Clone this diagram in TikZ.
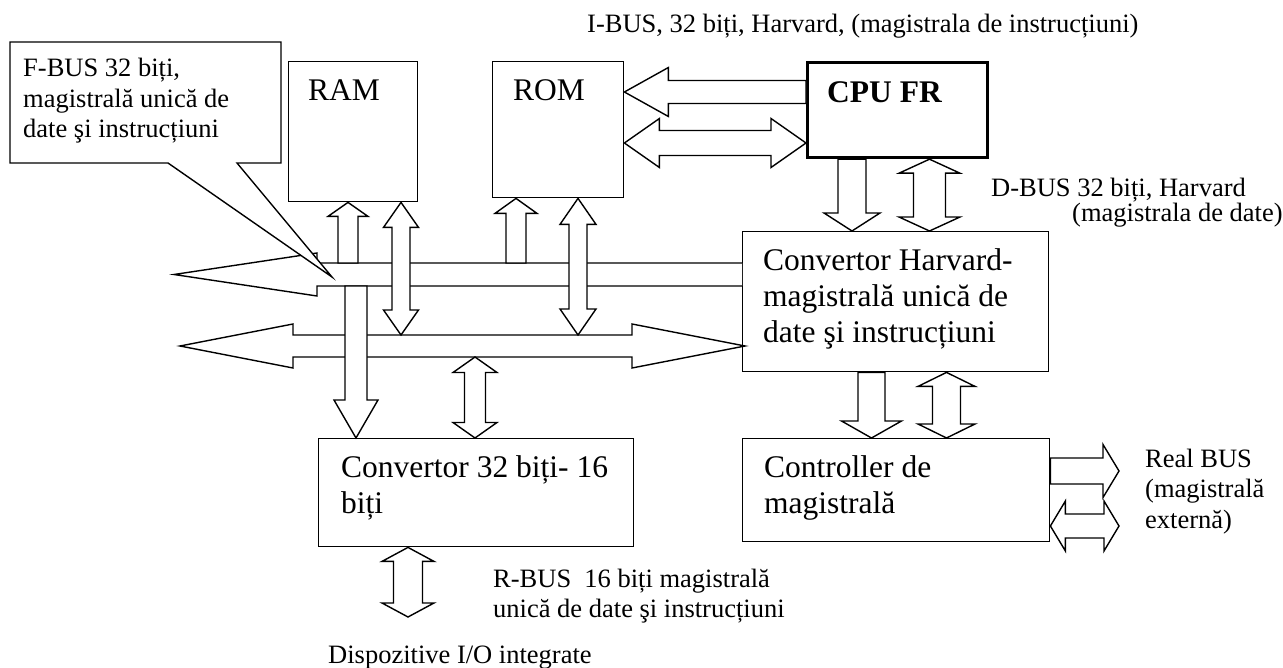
\documentclass[tikz,border=0pt]{standalone}
\usepackage{fontspec}
\setmainfont{Liberation Serif}
\usetikzlibrary{calc}

\tikzset{
  blk/.style={draw, line width=1.4pt, inner sep=0pt, anchor=north west},
  bar/.style={draw, fill=white, line width=1.4pt, line join=miter},
  txt/.style={inner sep=0pt, anchor=base west, align=left, font=\fontsize{31.5}{36}\selectfont},
  lbl/.style={inner sep=0pt, anchor=base west, align=left, font=\fontsize{26.5}{30.5}\selectfont},
}

% fat arrows: axis position, the two ends, shaft half width, head half width, head length
\newcommand{\vdbl}[6]{\filldraw[bar] let \p1=(#2), \p2=(#3) in
  (#1pt,\y1) -- (#1pt+#5pt,\y1-#6pt) -- (#1pt+#4pt,\y1-#6pt) -- (#1pt+#4pt,\y2+#6pt) -- (#1pt+#5pt,\y2+#6pt)
  -- (#1pt,\y2) -- (#1pt-#5pt,\y2+#6pt) -- (#1pt-#4pt,\y2+#6pt) -- (#1pt-#4pt,\y1-#6pt) -- (#1pt-#5pt,\y1-#6pt) -- cycle;}
\newcommand{\vdown}[6]{\filldraw[bar] let \p1=(#2), \p2=(#3) in
  (#1pt-#4pt,\y1) -- (#1pt+#4pt,\y1) -- (#1pt+#4pt,\y2+#6pt) -- (#1pt+#5pt,\y2+#6pt) -- (#1pt,\y2)
  -- (#1pt-#5pt,\y2+#6pt) -- (#1pt-#4pt,\y2+#6pt) -- cycle;}
\newcommand{\vup}[6]{\filldraw[bar] let \p1=(#2), \p2=(#3) in
  (#1pt,\y1) -- (#1pt+#5pt,\y1-#6pt) -- (#1pt+#4pt,\y1-#6pt) -- (#1pt+#4pt,\y2) -- (#1pt-#4pt,\y2)
  -- (#1pt-#4pt,\y1-#6pt) -- (#1pt-#5pt,\y1-#6pt) -- cycle;}
\newcommand{\hdbl}[6]{\filldraw[bar] let \p1=(#2), \p2=(#3) in
  (\x1,-#1pt) -- (\x1+#6pt,-#1pt+#5pt) -- (\x1+#6pt,-#1pt+#4pt) -- (\x2-#6pt,-#1pt+#4pt) -- (\x2-#6pt,-#1pt+#5pt)
  -- (\x2,-#1pt) -- (\x2-#6pt,-#1pt-#5pt) -- (\x2-#6pt,-#1pt-#4pt) -- (\x1+#6pt,-#1pt-#4pt) -- (\x1+#6pt,-#1pt-#5pt) -- cycle;}
\newcommand{\hleft}[6]{\filldraw[bar] let \p1=(#2), \p2=(#3) in
  (\x1,-#1pt) -- (\x1+#6pt,-#1pt+#5pt) -- (\x1+#6pt,-#1pt+#4pt) -- (\x2,-#1pt+#4pt) -- (\x2,-#1pt-#4pt)
  -- (\x1+#6pt,-#1pt-#4pt) -- (\x1+#6pt,-#1pt-#5pt) -- cycle;}
\newcommand{\hright}[6]{\filldraw[bar] let \p1=(#2), \p2=(#3) in
  (\x1,-#1pt+#4pt) -- (\x2-#6pt,-#1pt+#4pt) -- (\x2-#6pt,-#1pt+#5pt) -- (\x2,-#1pt) -- (\x2-#6pt,-#1pt-#5pt)
  -- (\x2-#6pt,-#1pt-#4pt) -- (\x1,-#1pt-#4pt) -- cycle;}

\begin{document}
\begin{tikzpicture}[x=1pt, y=-1pt]
  \useasboundingbox (0,0) rectangle (1283,668);

  % blocks
  \node[blk, minimum width=129pt, minimum height=140pt] (ram) at (288,61) {};
  \node[blk, minimum width=131pt, minimum height=136pt] (rom) at (492,61) {};
  \node[blk, line width=3.2pt, minimum width=180pt, minimum height=95pt] (cpu) at (806,61) {};
  \node[blk, minimum width=306pt, minimum height=140pt] (convh) at (742,231) {};
  \node[blk, minimum width=307pt, minimum height=103pt] (ctrl) at (742,438) {};
  \node[blk, minimum width=315pt, minimum height=108pt] (conv) at (318,438) {};

  % bus edges and free ends
  \coordinate (fbusT) at (0,263);
  \coordinate (fbusB) at (0,286);
  \coordinate (lbusT) at (0,335);
  \coordinate (lbusB) at (0,357);
  \coordinate (io) at (0,617);
  \coordinate (rbus) at (1119,0);

  % F-BUS and the shared 32 bit bus
  \filldraw[bar] (convh.west |- fbusT) -- (317,263) -- (317,253) -- (174,274.5) -- (317,296) -- (317,286) -- (convh.west |- fbusB);
  \filldraw[bar] (180,346) -- (293,324) -- (293,335) -- (632,335) -- (632,324) -- (745,346)
    -- (632,368) -- (632,357) -- (293,357) -- (293,368) -- cycle;

  \vup{348}{ram.south}{fbusT}{10}{20}{14}
  \vdbl{401}{ram.south}{lbusT}{9}{17.5}{25}
  \vup{516}{rom.south}{fbusT}{10}{21}{15}
  \vdbl{578}{rom.south}{lbusT}{9}{18}{26}
  \vdown{356}{fbusB}{conv.north}{11}{22}{38}
  \vdbl{475}{lbusB}{conv.north}{10.5}{22}{15.5}
  \vdbl{408}{conv.south}{io}{14.5}{26}{14}

  % I-BUS and D-BUS
  \hleft{92}{rom.east}{cpu.west}{11.5}{24.5}{44}
  \hdbl{143}{rom.east}{cpu.west}{12.5}{24.5}{35}
  \vdown{852}{cpu.south}{convh.north}{14}{28}{18}
  \vdbl{929.5}{cpu.south}{convh.north}{16}{30.5}{14}

  % to the bus controller and out
  \vdown{871.5}{convh.south}{ctrl.north}{13.5}{30}{17}
  \vdbl{946.5}{convh.south}{ctrl.north}{14}{28.5}{14}
  \hright{471}{ctrl.east}{rbus}{13}{26.5}{16}
  \hdbl{526}{ctrl.east}{rbus}{12}{25}{15}

  % callout
  \filldraw[bar] (10,42) -- (281,42) -- (281,163) -- (237,163) -- (332,277) -- (168,163) -- (10,163) -- cycle;

  % texts (base = last line)
  \node[lbl] (fbus) at (23,138) {F-BUS 32 biți,\\magistrală unică de\\date şi instrucțiuni};
  \node[txt] (ramt) at (308,101) {RAM};
  \node[txt] (romt) at (513,101) {ROM};
  \node[txt, font=\fontsize{31.5}{36}\selectfont\bfseries] (cput) at (827,103) {CPU FR};
  \node[lbl] (ibus) at (587,33) {I-BUS, 32 biți, Harvard, (magistrala de instrucțiuni)};
  \node[lbl] (dbus) at (991,197) {D-BUS 32 biți, Harvard};
  \node[lbl] (dbus2) at (1072,222) {(magistrala de date)};
  \node[txt] (convht) at (763,343) {Convertor Harvard-\\magistrală unică de\\date şi instrucțiuni};
  \node[txt] (ctrlt) at (764,513) {Controller de\\magistrală};
  \node[txt] (convt) at (341,513) {Convertor 32 biți- 16\\biți};
  \node[lbl] (realt) at (1145,528) {Real BUS\\(magistrală\\externă)};
  \node[lbl] (rbust) at (493,617.5) {R-BUS\ \ 16 biți magistrală\\unică de date şi instrucțiuni};
  \node[lbl] (iot) at (328,663) {Dispozitive I/O integrate};
\end{tikzpicture}
\end{document}
